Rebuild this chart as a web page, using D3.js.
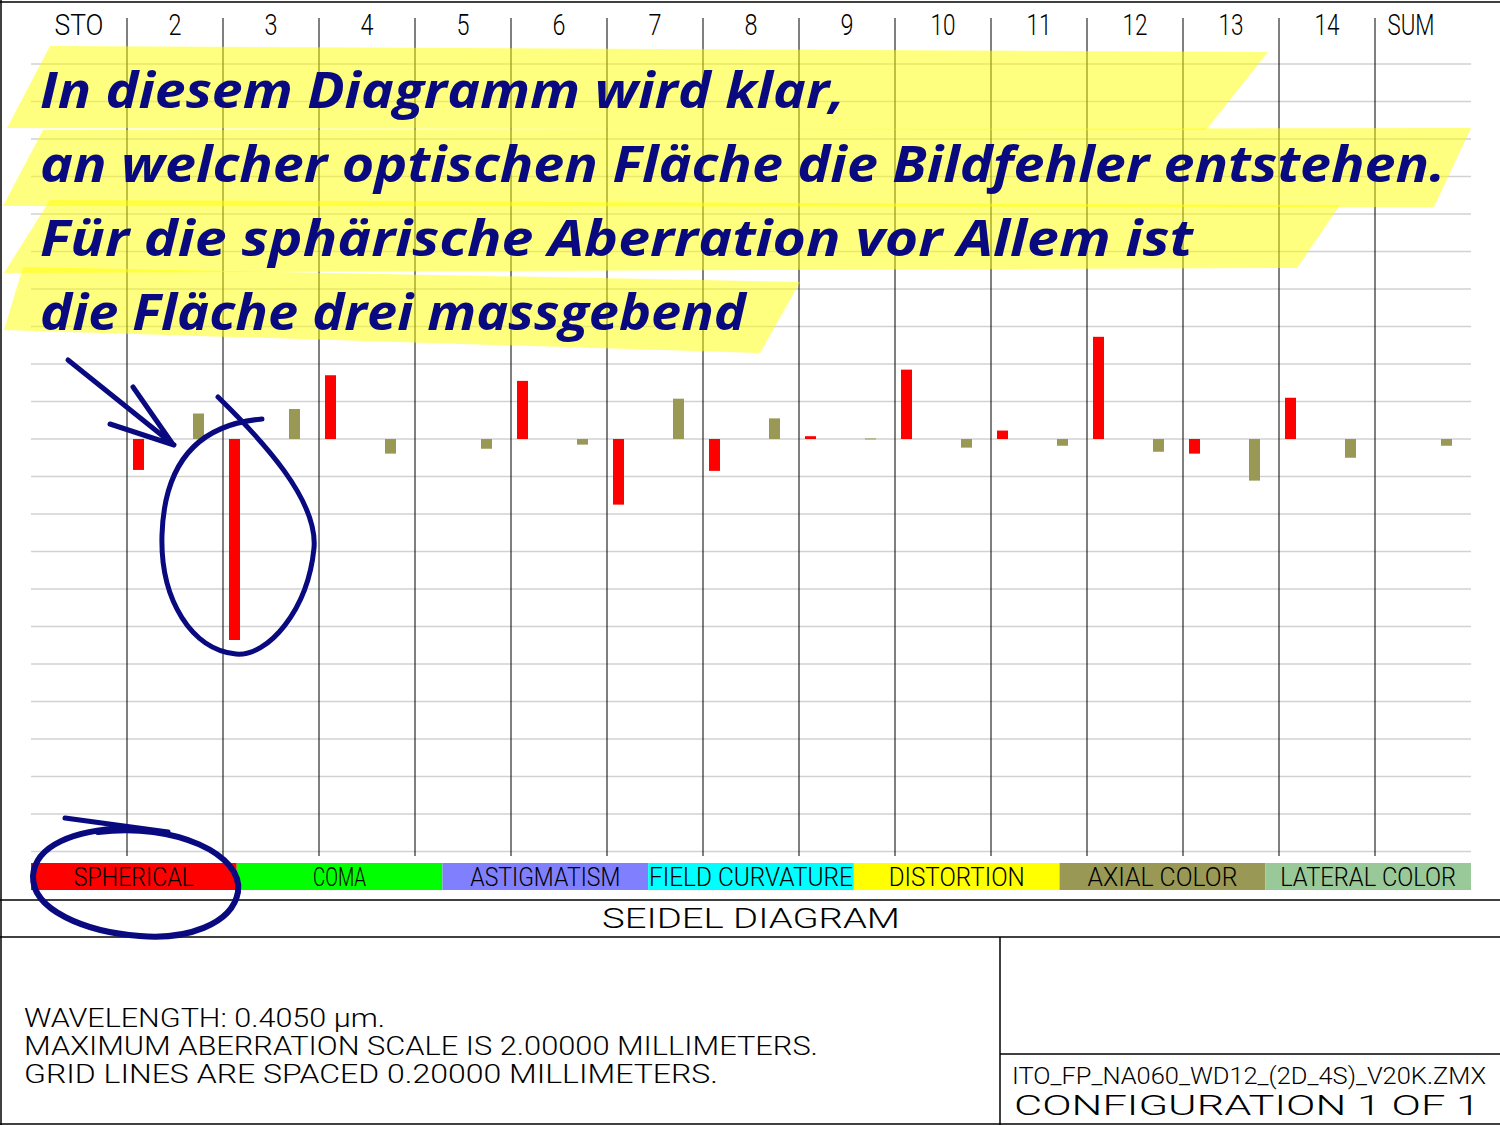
<!DOCTYPE html>
<html><head><meta charset="utf-8">
<script src="https://cdn.jsdelivr.net/npm/d3@7"></script>
<style>html,body{margin:0;padding:0;background:#fff;}svg{display:block;}</style>
</head><body>
<svg id="c" width="1500" height="1125"></svg>
<script>
// ---------- data ----------
const categories = ["STO","2","3","4","5","6","7","8","9","10","11","12","13","14","SUM"];
const seriesNames = ["SPHERICAL","COMA","ASTIGMATISM","FIELD CURVATURE","DISTORTION","AXIAL COLOR","LATERAL COLOR"];
const spherical    = [0, -0.165, -1.072, 0.34, 0, 0.31, -0.35, -0.17, 0.015, 0.37, 0.045, 0.545, -0.078, 0.22, 0];
const coma         = [0,0,0,0,0,0,0,0,0,0,0,0,0,0,0];
const astigmatism  = [0,0,0,0,0,0,0,0,0,0,0,0,0,0,0];
const fieldCurv    = [0,0,0,0,0,0,0,0,0,0,0,0,0,0,0];
const distortion   = [0,0,0,0,0,0,0,0,0,0,0,0,0,0,0];
const axialColor   = [0, 0.136, 0.16, -0.078, -0.052, -0.03, 0.215, 0.11, 0.003, -0.046, -0.036, -0.068, -0.222, -0.1, -0.036];
const lateralColor = [0,0,0,0,0,0,0,0,0,0,0,0,0,0,0];
const gridTicks = d3.range(-11, 11).map(i => +(i * 0.2).toFixed(1)); // -2.2 .. 2.0 mm
const infoLines = ["WAVELENGTH: 0.4050 \u03bcm.", "MAXIMUM ABERRATION SCALE IS 2.00000 MILLIMETERS.", "GRID LINES ARE SPACED 0.20000 MILLIMETERS."];
const fileName = "ITO_FP_NA060_WD12_(2D_4S)_V20K.ZMX";
const configText = "CONFIGURATION 1 OF 1";
const title = "SEIDEL DIAGRAM";
const noteLines = ["In diesem Diagramm wird klar,", "an welcher optischen Fl\u00e4che die Bildfehler entstehen.", "F\u00fcr die sph\u00e4rische Aberration vor Allem ist", "die Fl\u00e4che drei massgebend"];

const seriesValues = [spherical, coma, astigmatism, fieldCurv, distortion, axialColor, lateralColor];
const seriesColors = ["#ff0000","#00ff00","#8080ff","#00ffff","#ffff00","#999955","#99c899"];

// ---------- setup ----------
const svg = d3.select("#c");
const FONT = "Roboto, Inter, 'DejaVu Sans', sans-serif";
const x = d3.scaleBand().domain(categories).range([31, 1471]).padding(0);
const xs = d3.scaleBand().domain(seriesNames).range([6, 89]).paddingInner(1/12).paddingOuter(0);
const y = d3.scaleLinear().domain([-2, 2]).range([814, 64]);

function txt(g, tx, ty, s, size, width, anchor) {
  const t = g.append("text").attr("x", tx).attr("y", ty).text(s)
    .attr("font-family", FONT).attr("font-weight", 300).attr("font-size", size)
    .attr("fill", "#000").attr("text-anchor", anchor || "start").attr("dominant-baseline", "central");
  if (width) t.attr("textLength", width).attr("lengthAdjust", "spacingAndGlyphs");
  return t;
}

// grid lines
svg.append("g").selectAll("line").data(gridTicks).join("line")
  .attr("x1", 31).attr("x2", 1471).attr("y1", d => y(d)).attr("y2", d => y(d))
  .attr("stroke", "#d2d2d2").attr("stroke-width", 1.5);

// column separators
svg.append("g").selectAll("line").data(categories.slice(1)).join("line")
  .attr("x1", d => x(d)).attr("x2", d => x(d)).attr("y1", 18).attr("y2", 856)
  .attr("stroke", "#000").attr("stroke-width", 1);

// column labels
const labW = {"STO":49,"SUM":47};
const labDx = {"SUM":-12};
const lg = svg.append("g");
categories.forEach(c => {
  const w = labW[c] || (c.length === 1 ? 13 : 25);
  txt(lg, x(c) + x.bandwidth() / 2 + (labDx[c] || 0), 24, c, 30, w, "middle");
});

// bars
const bars = [];
categories.forEach((c, i) => seriesNames.forEach((s, k) => {
  const v = seriesValues[k][i];
  if (v !== 0) bars.push({c, s, v, col: seriesColors[k]});
}));
svg.append("g").selectAll("rect").data(bars).join("rect")
  .attr("x", d => x(d.c) + xs(d.s)).attr("width", xs.bandwidth())
  .attr("y", d => Math.min(y(d.v), y(0)))
  .attr("height", d => Math.max(1, Math.abs(y(d.v) - y(0))))
  .attr("fill", d => d.col);

// legend
const legX = d3.scaleBand().domain(seriesNames).range([31, 1471]);
const lgd = svg.append("g");
lgd.selectAll("rect").data(seriesNames).join("rect")
  .attr("x", d => legX(d)).attr("width", legX.bandwidth()).attr("y", 863).attr("height", 27)
  .attr("fill", (d, i) => seriesColors[i]);
const legW = {"SPHERICAL":120,"COMA":53,"ASTIGMATISM":150,"FIELD CURVATURE":204,"DISTORTION":136,"AXIAL COLOR":150,"LATERAL COLOR":176};
seriesNames.forEach(s => txt(lgd, legX(s) + legX.bandwidth() / 2, 877, s, 26, legW[s], "middle"));

// frame lines
const fr = svg.append("g").attr("stroke", "#000").attr("stroke-width", 1.5);
[[0,2,1500,2],[1,0,1,1125],[0,900,1500,900],[0,937,1500,937],[1000,937,1000,1125],[1000,1054,1500,1054],[0,1124,1500,1124]]
  .forEach(l => fr.append("line").attr("x1", l[0]).attr("y1", l[1]).attr("x2", l[2]).attr("y2", l[3]));

txt(svg, 751, 918, title, 28, 298, "middle");
const infoW = [361, 794, 694];
infoLines.forEach((s, i) => txt(svg, 24, 1018 + i * 28, s, 25, infoW[i], "start"));
txt(svg, 1012, 1076, fileName, 24, 474, "start");
txt(svg, 1014, 1106, configText, 27, 466, "start");

// ---------- annotation (highlighter + handwriting) ----------
const hl = [
  [[50,46],[1268,52],[1206,130],[7,128]],
  [[43,130],[1471,128],[1434,207],[3,206]],
  [[50,200],[1340,205],[1297,268],[4,273]],
  [[23,267],[800,282],[760,353],[4,330]]
];
svg.append("g").selectAll("polygon").data(hl).join("polygon")
  .attr("points", d => d.map(p => p.join(",")).join(" "))
  .attr("fill", "#ffff00").attr("fill-opacity", 0.5);

const noteBase = [108, 182, 256, 330];
const noteW = [805, 1405, 1153, 706];
const ng = svg.append("g");
noteLines.forEach((s, i) => ng.append("text").attr("x", 40).attr("y", noteBase[i]).text(s)
  .attr("font-family", "'Open Sans', 'Noto Sans', sans-serif").attr("font-style", "italic").attr("font-weight", 700)
  .attr("font-size", 50).attr("fill", "#0a0a80")
  .attr("textLength", noteW[i]).attr("lengthAdjust", "spacingAndGlyphs"));

const pen = svg.append("g").attr("fill", "none").attr("stroke", "#0a0a80").attr("stroke-width", 5)
  .attr("stroke-linecap", "round").attr("stroke-linejoin", "round");
pen.append("path").attr("d", "M68,360 L174,445 M133,387 L172,443 M110,424 L174,445");
pen.append("path").attr("d", "M218,397 C262,440 318,500 314,548 C308,610 268,657 236,654 C192,650 160,600 162,535 C164,470 192,425 262,419");
pen.append("path").attr("d", "M65,818 L168,832");
pen.append("path").attr("d", "M98,832 C175,822 244,855 238,892 C232,925 185,940 140,936 C85,932 32,910 33,876 C35,845 75,830 125,828").attr("stroke-width", 6);
</script>
</body></html>
